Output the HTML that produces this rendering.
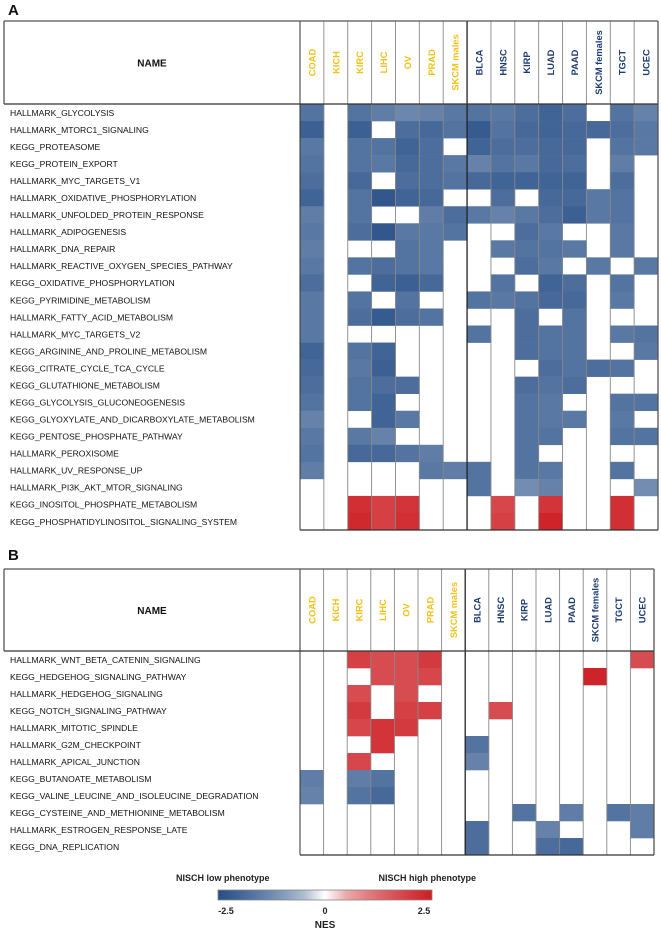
<!DOCTYPE html>
<html><head><meta charset="utf-8"><style>
html,body{margin:0;padding:0;background:#fff;}
svg{display:block;font-family:"Liberation Sans",Arial,sans-serif;}
</style></head><body>
<svg id="fig" width="661" height="931" viewBox="0 0 661 931" xmlns="http://www.w3.org/2000/svg"></svg>
<script>
const columns = ["COAD","KICH","KIRC","LIHC","OV","PRAD","SKCM males","BLCA","HNSC","KIRP","LUAD","PAAD","SKCM females","TGCT","UCEC"];
const goldCount = 7;
const namesA = ["HALLMARK_GLYCOLYSIS","HALLMARK_MTORC1_SIGNALING","KEGG_PROTEASOME","KEGG_PROTEIN_EXPORT","HALLMARK_MYC_TARGETS_V1","HALLMARK_OXIDATIVE_PHOSPHORYLATION","HALLMARK_UNFOLDED_PROTEIN_RESPONSE","HALLMARK_ADIPOGENESIS","HALLMARK_DNA_REPAIR","HALLMARK_REACTIVE_OXYGEN_SPECIES_PATHWAY","KEGG_OXIDATIVE_PHOSPHORYLATION","KEGG_PYRIMIDINE_METABOLISM","HALLMARK_FATTY_ACID_METABOLISM","HALLMARK_MYC_TARGETS_V2","KEGG_ARGININE_AND_PROLINE_METABOLISM","KEGG_CITRATE_CYCLE_TCA_CYCLE","KEGG_GLUTATHIONE_METABOLISM","KEGG_GLYCOLYSIS_GLUCONEOGENESIS","KEGG_GLYOXYLATE_AND_DICARBOXYLATE_METABOLISM","KEGG_PENTOSE_PHOSPHATE_PATHWAY","HALLMARK_PEROXISOME","HALLMARK_UV_RESPONSE_UP","HALLMARK_PI3K_AKT_MTOR_SIGNALING","KEGG_INOSITOL_PHOSPHATE_METABOLISM","KEGG_PHOSPHATIDYLINOSITOL_SIGNALING_SYSTEM"];
const n = null;
const valuesA = [
[-1.7,n,-1.7,-1.5,-1.3,-1.4,-1.6,-1.7,-1.6,-1.8,-2.0,-1.8,n,-1.7,-1.4],
[-2.1,n,-2.1,n,-1.8,-1.9,-1.7,-2.2,-1.7,-1.9,-2.0,-1.9,-1.9,-1.8,-1.6],
[-1.6,n,-1.7,-1.7,-2.0,-1.8,n,-2.0,-1.8,-1.8,-1.9,-1.9,n,-1.7,-1.6],
[-1.7,n,-1.7,-1.6,-1.9,-1.8,-1.6,-1.4,-1.7,-1.6,-1.9,-1.8,n,-1.5,n],
[-1.8,n,-1.9,n,-1.8,-1.8,-1.7,-1.9,-2.0,-2.0,-2.0,-2.0,n,-1.8,n],
[-2.0,n,-1.7,-2.3,-2.0,-1.9,n,n,-1.8,n,-1.9,-1.9,-1.6,-1.7,n],
[-1.5,n,-1.7,n,n,-1.5,-1.8,-1.6,-1.4,-1.6,-1.8,-2.1,-1.6,-1.7,n],
[-1.6,n,-1.8,-2.3,-1.6,-1.6,-1.7,n,n,-1.8,-1.6,n,n,-1.6,n],
[-1.5,n,n,n,-1.7,-1.6,n,n,-1.6,-1.7,-1.7,-1.6,n,-1.6,n],
[-1.6,n,-1.7,-1.8,-1.7,-1.6,n,n,n,-1.8,-1.6,n,-1.6,n,-1.6],
[-1.8,n,n,-2.0,-2.1,-1.9,n,n,-1.7,n,-2.0,-1.8,n,-1.7,n],
[-1.6,n,-1.7,n,-1.7,n,n,-1.7,-1.6,-1.7,-1.9,-1.9,n,-1.6,n],
[-1.6,n,-1.8,-2.2,-1.8,-1.7,n,n,n,-1.8,n,-1.7,n,n,n],
[-1.6,n,n,n,n,n,n,-1.7,n,-1.8,-1.7,-1.7,n,-1.6,-1.7],
[-2.0,n,-1.7,-2.0,n,n,n,n,n,-1.8,-1.7,-1.7,n,n,-1.6],
[-1.9,n,-1.6,-2.1,n,n,n,n,n,n,-1.8,-1.7,-1.8,-1.7,n],
[-1.8,n,-1.7,-1.8,-1.8,n,n,n,n,-1.8,-1.7,-1.8,n,n,n],
[-1.7,n,-1.7,-2.0,n,n,n,n,n,-1.7,-1.6,n,n,-1.7,-1.7],
[-1.4,n,n,-2.0,-1.6,n,n,n,n,-1.7,-1.6,-1.6,n,-1.6,n],
[-1.6,n,-1.6,-1.4,n,n,n,n,n,-1.7,-1.7,n,n,-1.7,-1.7],
[-1.7,n,-1.9,-1.9,-1.7,-1.5,n,n,n,-1.7,n,n,n,n,n],
[-1.5,n,n,n,n,-1.6,-1.5,-1.7,n,-1.7,-1.6,n,n,-1.7,n],
[n,n,n,n,n,n,n,-1.7,n,-1.2,-1.4,n,n,n,-1.2],
[n,n,2.2,1.9,2.1,n,n,n,1.8,n,2.1,n,n,2.2,n],
[n,n,2.3,1.9,2.2,n,n,n,1.9,n,2.4,n,n,2.2,n]
];
const namesB = ["HALLMARK_WNT_BETA_CATENIN_SIGNALING","KEGG_HEDGEHOG_SIGNALING_PATHWAY","HALLMARK_HEDGEHOG_SIGNALING","KEGG_NOTCH_SIGNALING_PATHWAY","HALLMARK_MITOTIC_SPINDLE","HALLMARK_G2M_CHECKPOINT","HALLMARK_APICAL_JUNCTION","KEGG_BUTANOATE_METABOLISM","KEGG_VALINE_LEUCINE_AND_ISOLEUCINE_DEGRADATION","KEGG_CYSTEINE_AND_METHIONINE_METABOLISM","HALLMARK_ESTROGEN_RESPONSE_LATE","KEGG_DNA_REPLICATION"];
const valuesB = [
[n,n,1.9,1.7,1.7,2.0,n,n,n,n,n,n,n,n,1.7],
[n,n,n,1.7,1.7,1.8,n,n,n,n,n,n,2.4,n,n],
[n,n,1.7,n,1.7,n,n,n,n,n,n,n,n,n,n],
[n,n,2.0,n,1.9,1.9,n,n,1.7,n,n,n,n,n,n],
[n,n,1.8,2.1,2.0,n,n,n,n,n,n,n,n,n,n],
[n,n,n,2.1,n,n,n,-1.7,n,n,n,n,n,n,n],
[n,n,1.8,n,n,n,n,-1.4,n,n,n,n,n,n,n],
[-1.5,n,-1.5,-1.7,n,n,n,n,n,n,n,n,n,n,n],
[-1.4,n,-1.7,-1.9,n,n,n,n,n,n,n,n,n,n,n],
[n,n,n,n,n,n,n,n,n,-1.7,n,-1.5,n,-1.7,-1.5],
[n,n,n,n,n,n,n,-1.8,n,n,-1.4,n,n,n,-1.5],
[n,n,n,n,n,n,n,-1.8,n,n,-1.8,-1.9,n,n,n]
];
const scaleTicks = ["-2.5","0","2.5"];
const scaleMin = -2.5, scaleMax = 2.5;

const NS = "http://www.w3.org/2000/svg";
const svg = document.getElementById("fig");
function mk(tag, attrs, parent) {
  const e = document.createElementNS(NS, tag);
  for (const k in attrs) e.setAttribute(k, attrs[k]);
  (parent || svg).appendChild(e);
  return e;
}
function color(v) {
  const t = Math.pow(Math.min(Math.abs(v) / scaleMax, 1), 0.6);
  const end = v < 0 ? [38, 78, 135] : [205, 30, 35];
  const c = [255, 255, 255].map((w, i) => Math.round(w + (end[i] - w) * t));
  return "rgb(" + c.join(",") + ")";
}

function panel(cfg) {
  const g = mk("g", {});
  
  
  const lab = mk("text", {x: 8, y: cfg.labelY, "font-size": 15, "font-weight": "bold", fill: "#111"}, g);
  lab.textContent = cfg.letter;
  
  
  const nc = columns.length;
  const cw = (cfg.right - cfg.nameRight) / nc;
  const rh = (cfg.bottom - cfg.headBottom) / cfg.names.length;
  const xOf = c => cfg.nameRight + c * cw;
  const yOf = r => cfg.headBottom + r * rh;
  // cells
  cfg.values.forEach((row, r) => {
    row.forEach((v, c) => {
      if (v === null) return;
      const cell = mk("rect", {x: xOf(c), y: yOf(r), width: cw + 0.3, height: rh + 0.3, fill: color(v)}, g);
      
      
    });
    const t = mk("text", {x: cfg.left + 6, y: yOf(r) + rh / 2 + 3.3, "font-size": 8.6, fill: "#111"}, g);
    t.textContent = cfg.names[r];
    
    
  });
  // vertical lines
  for (let c = 1; c < nc; c++) {
    const thick = c === goldCount;
    mk("line", {x1: xOf(c), x2: xOf(c), y1: cfg.top, y2: cfg.bottom, stroke: thick ? "#222" : "#888", "stroke-width": thick ? 1.3 : 0.9}, g);
  }
  mk("line", {x1: cfg.nameRight, x2: cfg.nameRight, y1: cfg.top, y2: cfg.bottom, stroke: "#333", "stroke-width": 1}, g);
  mk("line", {x1: cfg.left, x2: cfg.right, y1: cfg.headBottom, y2: cfg.headBottom, stroke: "#333", "stroke-width": 1.2}, g);
  // border: top, left, right, bottom
  mk("line", {x1: cfg.left, x2: cfg.right, y1: cfg.top, y2: cfg.top, stroke: "#555", "stroke-width": 1.3}, g);
  mk("line", {x1: cfg.left, x2: cfg.left, y1: cfg.top, y2: cfg.headBottom, stroke: "#555", "stroke-width": 1.3}, g);
  mk("line", {x1: cfg.right, x2: cfg.right, y1: cfg.top, y2: cfg.bottom, stroke: "#555", "stroke-width": 1.3}, g);
  mk("line", {x1: cfg.nameRight, x2: cfg.right, y1: cfg.bottom, y2: cfg.bottom, stroke: "#333", "stroke-width": 1.3}, g);
  // headers
  const nm = mk("text", {x: (cfg.left + cfg.nameRight) / 2, y: (cfg.top + cfg.headBottom) / 2 + 4, "font-size": 10, "font-weight": "bold", "text-anchor": "middle", fill: "#111"}, g);
  nm.textContent = "NAME";
  
  
  columns.forEach((col, c) => {
    const cx = xOf(c) + cw / 2 + 3.5;
    const cy = (cfg.top + cfg.headBottom) / 2;
    const t = mk("text", {x: cx, y: cy, "font-size": 9.3, "font-weight": "bold", "text-anchor": "middle", fill: c < goldCount ? "#f2c11a" : "#1f3d73", transform: "rotate(-90 " + cx + " " + cy + ")"}, g);
    t.textContent = col;
    
    
  });
}

panel({id: "panel-a", letter: "A", labelY: 15, left: 4, top: 21, nameRight: 300, right: 658, headBottom: 104, bottom: 530, names: namesA, values: valuesA});
panel({id: "panel-b", letter: "B", labelY: 560, left: 4, top: 569, nameRight: 300, right: 654, headBottom: 651, bottom: 855, names: namesB, values: valuesB});

// color legend
const lg = mk("g", {});


const defs = mk("defs", {}, lg);
const grad = mk("linearGradient", {id: "nesgrad", x1: 0, x2: 1, y1: 0, y2: 0}, defs);
for (let i = 0; i <= 10; i++) {
  const v = scaleMin + (scaleMax - scaleMin) * i / 10;
  mk("stop", {offset: (i * 10) + "%", "stop-color": Math.abs(v) < 1e-9 ? "#fff" : color(v)}, grad);
}
const barX = 218, barW = 214, barY = 890, barH = 10;
const bar = mk("rect", {x: barX, y: barY, width: barW, height: barH, fill: "url(#nesgrad)", stroke: "#888", "stroke-width": 0.8}, lg);


const lo = mk("text", {x: 176, y: 881, "font-size": 9, "font-weight": "bold", fill: "#222"}, lg);
lo.textContent = "NISCH low phenotype";


const hi = mk("text", {x: 476, y: 881, "font-size": 9, "font-weight": "bold", "text-anchor": "end", fill: "#222"}, lg);
hi.textContent = "NISCH high phenotype";


scaleTicks.forEach((tk, i) => {
  const v = parseFloat(tk);
  const x = barX + 8 + (barW - 16) * (v - scaleMin) / (scaleMax - scaleMin);
  const t = mk("text", {x: x, y: 914, "font-size": 9, "font-weight": "bold", "text-anchor": "middle", fill: "#222"}, lg);
  t.textContent = tk;
  
  
});
const nes = mk("text", {x: 325, y: 928, "font-size": 10, "font-weight": "bold", "text-anchor": "middle", fill: "#222"}, lg);
nes.textContent = "NES";


</script>
</body></html>
